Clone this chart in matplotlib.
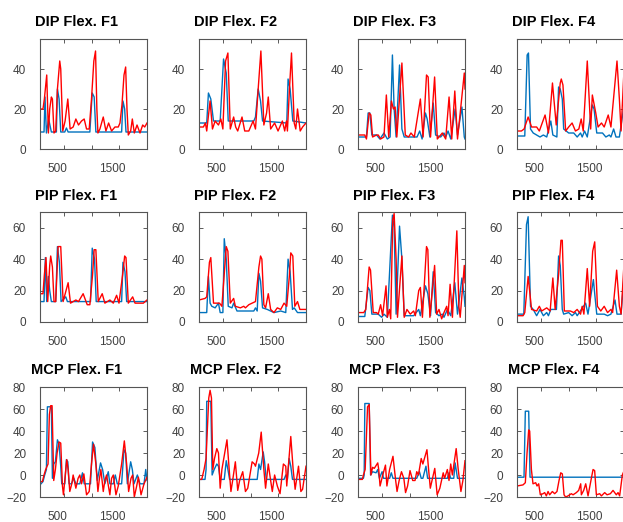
import matplotlib
matplotlib.use('Agg')
import matplotlib.pyplot as plt
import matplotlib.transforms as mtransforms

plt.rcParams['font.family'] = ['Liberation Sans', 'DejaVu Sans']

# ---- DIP flexion ----
dip1_bx = [60, 133, 151, 176, 217, 266, 357, 376, 406, 436, 509, 539, 570, 964, 1007, 1042, 1073, 1540, 1564, 1595, 1619, 2000]
dip1_by = [8.5, 8.5, 26, 8, 15, 8.5, 8.5, 30, 25, 8.5, 8.5, 10.5, 8.5, 8.5, 28, 26, 8.5, 8.5, 24, 20, 8.5, 8.5]
dip1_rx = [60, 114, 139, 182, 212, 236, 266, 285, 314, 345, 376, 418, 436, 473, 515, 564, 606, 661, 710, 758,
           813, 861, 904, 952, 994, 1036, 1067, 1091, 1110, 1146, 1207, 1255, 1304, 1358, 1419, 1479, 1510,
           1546, 1583, 1613, 1637, 1661, 1704, 1734, 1770, 1819, 1873, 1922, 1958, 2000]
dip1_ry = [20, 20, 25, 37, 8, 20, 26, 25, 8, 9, 30, 44, 40, 9, 14, 25, 10, 11, 15, 12,
           14, 15, 10, 10, 25, 44, 49, 20, 8, 10, 16, 9, 13, 9, 11, 11, 13,
           22, 37, 41, 20, 7, 9, 15, 8, 12, 8, 12, 11, 13]

dip2_bx = [60, 200, 231, 274, 323, 444, 505, 554, 590, 1054, 1084, 1133, 1176, 1212, 1651, 1675, 1712, 1761, 2000]
dip2_by = [13, 13, 28, 25, 14, 14, 45, 38, 14, 14, 16, 30, 24, 14, 13, 35, 30, 14, 13]
dip2_rx = [60, 140, 176, 200, 261, 304, 353, 413, 456, 493, 542, 584, 627, 688, 725, 762, 840, 889, 963, 1041,
           1084, 1133, 1182, 1236, 1285, 1316, 1359, 1431, 1493, 1572, 1614, 1645, 1663, 1700, 1737, 1786, 1815,
           1846, 1895, 1938, 2000]
dip2_ry = [11, 11, 13, 9, 24, 10, 14, 12, 15, 10, 44, 48, 10, 16, 11, 9, 16, 9, 9, 14,
           10, 30, 49, 12, 18, 26, 10, 13, 9, 14, 9, 14, 9, 30, 48, 13, 10,
           20, 9, 11, 13]

dip3_bx = [60, 213, 244, 275, 311, 396, 457, 531, 592, 642, 684, 715, 751, 813, 856, 898, 1130, 1179, 1222, 1283,
           1314, 1363, 1424, 1467, 1559, 1619, 1650, 1693, 1742, 1821, 1864, 1944, 1987, 2000]
dip3_by = [6, 6, 18, 18, 7, 7, 5, 8, 5, 6, 47, 20, 6, 42, 10, 6, 6, 9, 5, 18,
           15, 6, 23, 7, 6, 8, 6, 9, 5, 20, 7, 21, 6, 5]
dip3_rx = [60, 183, 213, 262, 293, 324, 396, 427, 470, 531, 574, 617, 666, 702, 733, 764, 856, 917, 977, 1020,
           1081, 1191, 1240, 1302, 1332, 1375, 1449, 1498, 1589, 1650, 1711, 1760, 1815, 1864, 1913, 1987, 2000]
dip3_ry = [7, 7, 5, 18, 17, 6, 7, 7, 5, 6, 27, 6, 24, 20, 21, 6, 43, 7, 6, 8,
           6, 25, 6, 37, 36, 6, 36, 5, 8, 5, 26, 5, 29, 5, 18, 38, 30]

dip4_bx = [60, 201, 244, 268, 305, 354, 477, 538, 599, 673, 710, 783, 814, 844, 881, 906, 997, 1089, 1151, 1212,
           1242, 1285, 1334, 1426, 1457, 1506, 1610, 1671, 1733, 1763, 1812, 1855, 1916, 1996, 2010]
dip4_by = [6.5, 6.5, 47, 48, 10, 8, 6, 7, 6, 14, 7, 6, 31, 30, 25, 10, 8, 8, 6, 8,
           6, 9, 6, 22, 20, 8, 8, 6, 7, 6, 10, 6, 6, 21, 21]
dip4_rx = [60, 140, 189, 262, 324, 416, 465, 569, 630, 703, 771, 844, 863, 893, 942, 997, 1059, 1120, 1181, 1224,
           1261, 1334, 1396, 1426, 1488, 1530, 1592, 1641, 1714, 1763, 1873, 1916, 1947, 1996, 2010]
dip4_ry = [9, 9, 10, 16, 11, 11, 9, 17, 8, 33, 12, 33, 35, 32, 9, 11, 13, 9, 10, 15,
           9, 44, 10, 27, 18, 11, 13, 11, 17, 11, 44, 25, 9, 37, 38]

# ---- PIP flexion ----
pip1_bx = [60, 133, 157, 182, 212, 236, 266, 345, 376, 412, 442, 527, 557, 976, 1007, 1049, 1079, 1540, 1564, 1601, 1631, 2000]
pip1_by = [13, 13, 41, 13, 29, 20, 13, 13, 48, 38, 13, 16, 13, 13, 47, 40, 13, 13, 38, 32, 13, 13]
pip1_rx = [60, 114, 139, 169, 200, 236, 254, 285, 314, 345, 388, 436, 479, 570, 613, 710, 758, 842, 916, 964,
           1013, 1042, 1073, 1116, 1188, 1236, 1327, 1389, 1449, 1492, 1558, 1595, 1619, 1661, 1740, 1783, 1934, 2000]
pip1_ry = [18, 18, 30, 41, 13, 36, 42, 35, 13, 13, 48, 48, 13, 25, 12, 14, 13, 18, 11, 11,
           30, 46, 46, 13, 18, 12, 14, 12, 17, 12, 30, 42, 41, 12, 16, 12, 12, 14]

pip2_bx = [60, 200, 231, 261, 292, 353, 413, 444, 493, 518, 554, 590, 658, 688, 749, 1054, 1084, 1115, 1146, 1176,
           1212, 1298, 1419, 1542, 1633, 1675, 1712, 1755, 1786, 1846, 2000]
pip2_by = [6, 6, 29, 12, 10, 9, 12, 6, 6, 53, 40, 10, 9, 12, 7, 7, 9, 7, 31, 26,
           9, 8, 6, 7, 6, 40, 32, 8, 9, 6, 6]
pip2_rx = [60, 169, 200, 249, 274, 323, 383, 432, 475, 554, 584, 627, 688, 719, 810, 871, 902, 963, 1023, 1084,
           1146, 1176, 1200, 1236, 1267, 1316, 1359, 1419, 1480, 1542, 1602, 1651, 1700, 1724, 1761, 1797, 1846,
           1889, 2000]
pip2_ry = [14, 15, 16, 38, 41, 12, 12, 12, 10, 48, 45, 12, 15, 10, 9, 10, 9, 11, 12, 13,
           35, 42, 40, 11, 9, 18, 8, 6, 9, 8, 12, 10, 30, 44, 42, 10, 13,
           8, 8]

pip3_bx = [60, 183, 244, 275, 311, 427, 488, 531, 592, 684, 715, 751, 813, 856, 898, 1069, 1161, 1191, 1283, 1326,
           1375, 1424, 1467, 1528, 1589, 1619, 1681, 1742, 1815, 1864, 1944, 1987, 2000]
pip3_by = [3.5, 3.5, 22, 20, 5, 5, 3, 5, 3, 68, 60, 5, 61, 40, 4, 4, 8, 4, 23, 18,
           4, 32, 6, 4, 5, 3, 8, 4, 25, 5, 28, 16, 10]
pip3_rx = [60, 164, 201, 262, 287, 336, 396, 427, 470, 506, 568, 592, 629, 653, 690, 715, 751, 776, 856, 898,
           947, 1008, 1069, 1100, 1161, 1191, 1228, 1302, 1326, 1363, 1449, 1486, 1528, 1577, 1619, 1668, 1693,
           1730, 1772, 1852, 1889, 1913, 1987, 2000]
pip3_ry = [6, 6, 8, 35, 33, 6, 6, 5, 11, 4, 23, 3, 8, 2, 65, 69, 40, 3, 42, 3,
           8, 5, 7, 4, 20, 22, 3, 48, 46, 3, 36, 5, 8, 2, 6, 10, 4,
           24, 3, 58, 10, 3, 36, 25]

pip4_bx = [60, 183, 232, 262, 305, 354, 416, 477, 538, 599, 630, 673, 775, 814, 844, 881, 906, 997, 1059, 1120,
           1151, 1304, 1347, 1445, 1469, 1506, 1641, 1702, 1763, 1837, 1873, 1947, 1996, 2010]
pip4_by = [5, 5, 62, 67, 10, 8, 4, 8, 4, 6, 4, 8, 8, 42, 36, 8, 5, 6, 4, 6,
           4, 12, 5, 27, 18, 5, 5, 4, 5, 14, 5, 5, 27, 27]
pip4_rx = [60, 171, 201, 262, 324, 416, 465, 507, 599, 661, 710, 752, 814, 857, 881, 918, 1028, 1089, 1151, 1212,
           1242, 1273, 1334, 1377, 1432, 1469, 1518, 1579, 1641, 1702, 1763, 1794, 1867, 1916, 1947, 2010]
pip4_ry = [4, 4, 6, 29, 8, 7, 10, 7, 9, 7, 28, 8, 30, 52, 52, 7, 7, 6, 8, 5,
           10, 5, 34, 10, 45, 51, 10, 7, 10, 6, 8, 6, 33, 10, 5, 43]

# ---- MCP flexion ----
mcp1_bx = [60, 114, 145, 176, 194, 266, 285, 309, 339, 376, 406, 436, 454, 509, 539, 564, 588, 630, 673, 710,
           782, 830, 861, 976, 1013, 1055, 1098, 1158, 1195, 1236, 1298, 1327, 1389, 1425, 1461, 1540, 1583,
           1613, 1643, 1704, 1734, 1764, 1825, 1873, 1946, 1977, 2000]
mcp1_by = [-9, -6, 0, 5, 62, 62, -3, 10, 12, 32, 28, 8, -8, -8, 14, 12, -8, -8, -3, -8,
           -8, 2, -8, -8, 30, 25, -5, 11, 5, -8, 3, -8, -8, 0, -8, -8, 23,
           20, -8, 12, 5, -8, 0, -8, -8, 5, -5]
mcp1_rx = [60, 103, 133, 163, 206, 230, 254, 279, 309, 339, 370, 406, 436, 467, 485, 509, 545, 570, 600, 636,
           661, 710, 751, 782, 813, 855, 904, 952, 994, 1030, 1073, 1110, 1133, 1164, 1207, 1236, 1267, 1327,
           1358, 1389, 1437, 1479, 1540, 1589, 1631, 1667, 1710, 1740, 1770, 1813, 1843, 1892, 1946, 2000]
mcp1_ry = [-6, -6, 0, 5, 10, 55, 63, 63, -5, 5, 20, 30, 29, -10, -18, -5, 14, 5, -15, -8,
           0, -12, -3, 0, -8, 1, -18, -15, 10, 28, 10, -15, -5, 5, -15, -5, 0, -18,
           -3, 0, -18, -10, 10, 31, 10, -15, -3, 0, -20, -10, -2, -18, -8, -2]

mcp2_bx = [60, 169, 188, 200, 274, 298, 335, 383, 413, 444, 518, 554, 584, 615, 1115, 1146, 1176, 1224, 1249, 1279,
           1602, 1633, 1663, 1694, 1724, 1755, 2000]
mcp2_by = [-4, -4, 5, 67, 67, 0, 5, 10, 8, -4, -4, 13, 5, -4, -4, 10, 5, 21, 12, -4,
           -4, 0, -4, 15, 8, -4, -4]
mcp2_rx = [60, 109, 152, 188, 237, 261, 286, 310, 341, 383, 413, 444, 475, 567, 615, 639, 670, 719, 762, 797,
           853, 902, 944, 1023, 1066, 1084, 1143, 1188, 1236, 1267, 1316, 1359, 1389, 1431, 1480, 1529, 1590,
           1633, 1651, 1724, 1767, 1803, 1864, 1907, 1938, 2000]
mcp2_ry = [-4, -4, 5, 15, 70, 77, 70, 5, 15, 24, 20, -12, 5, 32, 0, -15, -5, 12, -14, -5,
           3, -15, -12, 12, 10, 8, 20, 39, 5, -12, 10, -5, -15, 0, -10, -17, 10,
           8, -10, 35, 5, -13, 8, -15, -13, 8]

mcp3_bx = [60, 158, 172, 184, 263, 288, 325, 387, 418, 448, 497, 522, 633, 664, 694, 1125, 1174, 1206, 1236, 1292,
           1322, 1680, 1710, 1741, 1796, 1821, 1864, 2000]
mcp3_by = [-3, -3, 0, 65, 65, 0, 3, 2, 5, -3, 3, -3, -3, 2, -3, -3, 3, -3, -3, 8,
           -3, -3, 2, -3, -3, 11, -3, -3]
mcp3_rx = [60, 140, 158, 190, 233, 263, 294, 325, 355, 418, 436, 460, 509, 558, 584, 633, 694, 743, 768, 806,
           848, 891, 922, 959, 1003, 1052, 1094, 1125, 1156, 1206, 1236, 1310, 1340, 1371, 1402, 1452, 1495,
           1544, 1605, 1630, 1680, 1710, 1741, 1771, 1840, 1877, 1926, 1962, 2000]
mcp3_ry = [-4, -4, 0, 5, 62, 64, 0, 7, 6, 11, 5, -10, 0, 9, -10, 5, 17, -5, -15, -5,
           3, -3, -16, -10, 4, -5, -5, 3, 0, 15, 10, 23, 5, -12, -5, 6, -18,
           -12, 2, -3, 5, -5, 10, 0, 24, 5, -15, -5, 13]

mcp4_bx = [60, 187, 211, 272, 296, 2010]
mcp4_by = [-2, -2, 58, 58, -2, -2]
mcp4_rx = [60, 169, 211, 242, 272, 290, 321, 350, 399, 423, 453, 483, 532, 562, 592, 623, 652, 701, 743, 785,
           822, 853, 882, 913, 942, 985, 1045, 1076, 1136, 1178, 1215, 1227, 1269, 1306, 1348, 1408, 1439,
           1468, 1499, 1559, 1590, 1650, 1692, 1753, 1801, 1861, 1892, 1921, 1970, 2010]
mcp4_ry = [-10, -9, -7, 20, 41, 40, 5, -8, -7, -10, -8, -18, -17, -16, -19, -15, -18, -15, -17, -15,
           -5, 2, 1, -18, -20, -19, -17, -18, -16, -14, -8, -18, -14, -8, -19, -3, 5,
           4, -18, -17, -19, -16, -18, -17, -14, -18, -16, -19, 0, 5]

joints = ['DIP', 'PIP', 'MCP']
fingers = ['F1', 'F2', 'F3', 'F4']
series = [
    [(dip1_bx, dip1_by, dip1_rx, dip1_ry), (dip2_bx, dip2_by, dip2_rx, dip2_ry),
     (dip3_bx, dip3_by, dip3_rx, dip3_ry), (dip4_bx, dip4_by, dip4_rx, dip4_ry)],
    [(pip1_bx, pip1_by, pip1_rx, pip1_ry), (pip2_bx, pip2_by, pip2_rx, pip2_ry),
     (pip3_bx, pip3_by, pip3_rx, pip3_ry), (pip4_bx, pip4_by, pip4_rx, pip4_ry)],
    [(mcp1_bx, mcp1_by, mcp1_rx, mcp1_ry), (mcp2_bx, mcp2_by, mcp2_rx, mcp2_ry),
     (mcp3_bx, mcp3_by, mcp3_rx, mcp3_ry), (mcp4_bx, mcp4_by, mcp4_rx, mcp4_ry)],
]
ylims = [(0, 55), (0, 70), (-20, 80)]
yticks = [[0, 20, 40], [0, 20, 40, 60], [-20, 0, 20, 40, 60, 80]]
xticks = [500, 1000, 1500, 2000]
xticklabels = ['500', '', '1500', '']

W, H = 623, 522
fig = plt.figure(figsize=(W / 100, H / 100), dpi=100)

col_left = [40, 199, 358, 517]
row_top = [39, 212, 387]
ax_w, ax_h = 107, 110

# text in the reference sits a little left of where it belongs
shift = mtransforms.ScaledTranslation(-7 / 100, 0, fig.dpi_scale_trans)

for i in range(3):
    for j in range(4):
        ax = fig.add_axes([col_left[j] / W, (H - row_top[i] - ax_h) / H, ax_w / W, ax_h / H])
        bx, by, rx, ry = series[i][j]
        ax.plot(bx, by, color='#0072BD', lw=1.0)
        ax.plot(rx, ry, color='#FF0000', lw=1.0)
        ax.set_xlim(60, 2000)
        ax.set_ylim(*ylims[i])
        ax.set_xticks(xticks)
        ax.set_xticklabels(xticklabels)
        ax.set_yticks(yticks[i])
        ax.tick_params(direction='in', length=3, width=0.6, top=True, right=True,
                       labelsize=8.5, labelcolor='#404040', color='#404040', pad=10)
        for lab in ax.get_xticklabels():
            lab.set_transform(lab.get_transform() + shift)
        for sp in ax.spines.values():
            sp.set_color('#555555')
            sp.set_linewidth(0.8)
        ax.set_title('%s Flex. %s' % (joints[i], fingers[j]), fontsize=10.5,
                     fontweight='bold', pad=9, x=0.34)

fig.savefig('out.png', dpi=100)
